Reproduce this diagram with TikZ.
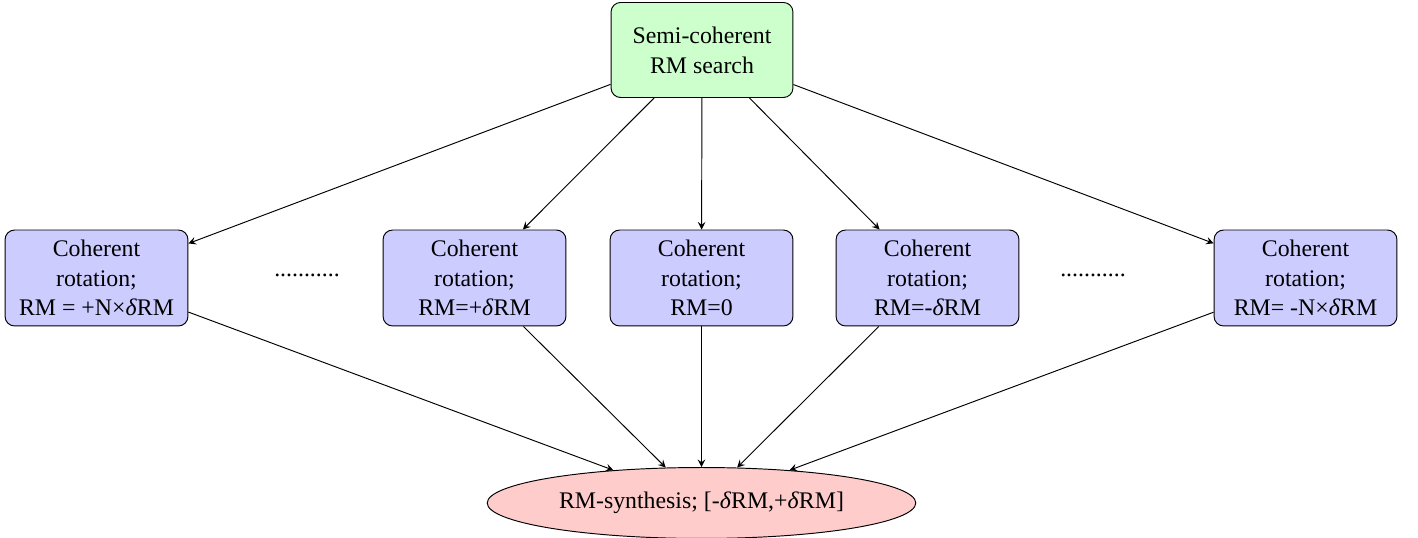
\documentclass[tikz,border=0pt]{standalone}
\usepackage{fontspec}
\setmainfont{Liberation Serif}
\usetikzlibrary{shapes.geometric}
\newcommand{\dlt}{\textit{δ}}
\begin{document}
\begin{tikzpicture}[x=0.42pt,y=-0.42pt,
  every node/.style={font=\fontsize{10}{12.5}\selectfont},
  cbox/.style={draw, rounded corners=4pt, fill=blue!20, align=center,
    minimum width=76.8pt, minimum height=40.3pt, inner sep=2pt},
  topbox/.style={draw, rounded corners=4pt, fill=green!20, align=center,
    minimum width=76.4pt, minimum height=39.9pt, inner sep=2pt},
  synth/.style={draw, ellipse, fill=red!20, minimum width=180pt, minimum height=29.8pt, inner sep=0pt},
  arr/.style={-stealth, thin}]
\useasboundingbox (0,0) rectangle (1418,538);
\node[topbox] (top) at (702,50) {Semi-coherent\\RM search};
\node[cbox] (b1) at (96.5,278) {Coherent\\rotation;\\RM = +N×\dlt RM};
\node[cbox] (b2) at (474.5,278) {Coherent\\rotation;\\RM=+\dlt RM};
\node[cbox] (b3) at (701.5,278) {Coherent\\rotation;\\RM=0};
\node[cbox] (b4) at (927.5,278) {Coherent\\rotation;\\RM=-\dlt RM};
\node[cbox] (b5) at (1305.5,278) {Coherent\\rotation;\\RM= -N×\dlt RM};
\node (d1) at (307,275) {...........};
\node (d2) at (1093,275) {...........};
\node[synth] (s) at (701.5,503) {RM-synthesis; [-\dlt RM,+\dlt RM]};
\foreach \b in {b1,b2,b3,b4,b5} {
  \draw[arr] (top) -- (\b);
  \draw[arr] (\b) -- (s);
}
\end{tikzpicture}
\end{document}
